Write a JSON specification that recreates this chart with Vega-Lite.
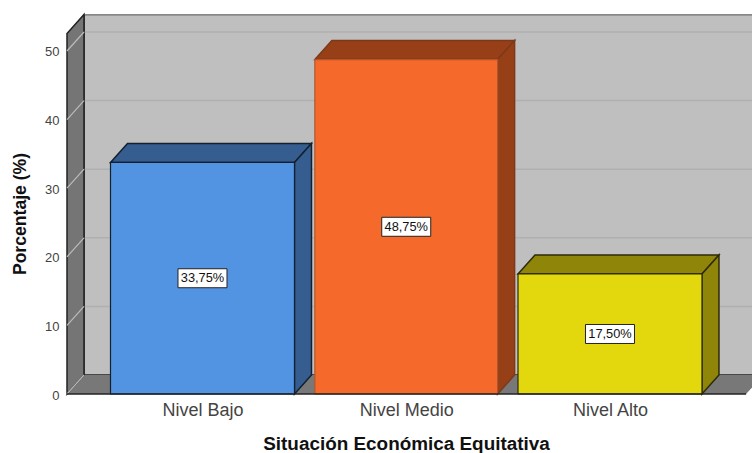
{
"$schema":"https://vega.github.io/schema/vega-lite/v6.json",
"width":685,"height":379.5,
"autosize":{"type":"none"},
"padding":{"left":67,"top":14.5,"right":0,"bottom":59},
"background":"white",
"view":{"stroke":null},
"config":{"font":"Liberation Sans"},
"datasets":{
"barras":[
{"categoria":"Nivel Bajo","inicio":0.5485,"fin":1.4515,"porcentaje":33.75,"mitad":16.875,"centro":1,"etiqueta":"33,75%"},
{"categoria":"Nivel Medio","inicio":1.5515,"fin":2.4485,"porcentaje":48.75,"mitad":24.375,"centro":2,"etiqueta":"48,75%"},
{"categoria":"Nivel Alto","inicio":2.5485,"fin":3.4515,"porcentaje":17.5,"mitad":8.75,"centro":3,"etiqueta":"17,50%"}
],
"caras":[
{"categoria":"Nivel Bajo","cara":"techo","x":0.5485,"y":33.75,"y2":33.75},
{"categoria":"Nivel Bajo","cara":"techo","x":0.6319,"y":33.75,"y2":36.52},
{"categoria":"Nivel Bajo","cara":"techo","x":1.4515,"y":33.75,"y2":36.52},
{"categoria":"Nivel Bajo","cara":"techo","x":1.5349,"y":36.52,"y2":36.52},
{"categoria":"Nivel Bajo","cara":"lado","x":1.4515,"y":0,"y2":33.75},
{"categoria":"Nivel Bajo","cara":"lado","x":1.5349,"y":2.77,"y2":36.52},
{"categoria":"Nivel Medio","cara":"techo","x":1.5515,"y":48.75,"y2":48.75},
{"categoria":"Nivel Medio","cara":"techo","x":1.6349,"y":48.75,"y2":51.52},
{"categoria":"Nivel Medio","cara":"techo","x":2.4485,"y":48.75,"y2":51.52},
{"categoria":"Nivel Medio","cara":"techo","x":2.5319,"y":51.52,"y2":51.52},
{"categoria":"Nivel Medio","cara":"lado","x":2.4485,"y":0,"y2":48.75},
{"categoria":"Nivel Medio","cara":"lado","x":2.5319,"y":2.77,"y2":51.52},
{"categoria":"Nivel Alto","cara":"techo","x":2.5485,"y":17.5,"y2":17.5},
{"categoria":"Nivel Alto","cara":"techo","x":2.6319,"y":17.5,"y2":20.27},
{"categoria":"Nivel Alto","cara":"techo","x":3.4515,"y":17.5,"y2":20.27},
{"categoria":"Nivel Alto","cara":"techo","x":3.5349,"y":20.27,"y2":20.27},
{"categoria":"Nivel Alto","cara":"lado","x":3.4515,"y":0,"y2":17.5},
{"categoria":"Nivel Alto","cara":"lado","x":3.5349,"y":2.77,"y2":20.27}
],
"suelo":[
{"x":0.335,"y":0,"y2":0},
{"x":0.4184,"y":0,"y2":2.77},
{"x":3.668,"y":0,"y2":2.77},
{"x":3.7514,"y":2.77,"y2":2.77}
],
"paredIzq":[
{"x":0.335,"y":0,"y2":52.55},
{"x":0.4184,"y":2.77,"y2":55.32}
],
"rejilla":[
{"nivel":0,"x":0.335,"y":0},{"nivel":0,"x":0.4184,"y":2.77},
{"nivel":10,"x":0.335,"y":10},{"nivel":10,"x":0.4184,"y":12.77},
{"nivel":20,"x":0.335,"y":20},{"nivel":20,"x":0.4184,"y":22.77},
{"nivel":30,"x":0.335,"y":30},{"nivel":30,"x":0.4184,"y":32.77},
{"nivel":40,"x":0.335,"y":40},{"nivel":40,"x":0.4184,"y":42.77},
{"nivel":50,"x":0.335,"y":50},{"nivel":50,"x":0.4184,"y":52.77}
],
"fondo":[
{"nivel":10,"x":0.4184,"y":12.77},{"nivel":10,"x":3.7514,"y":12.77},
{"nivel":20,"x":0.4184,"y":22.77},{"nivel":20,"x":3.7514,"y":22.77},
{"nivel":30,"x":0.4184,"y":32.77},{"nivel":30,"x":3.7514,"y":32.77},
{"nivel":40,"x":0.4184,"y":42.77},{"nivel":40,"x":3.7514,"y":42.77},
{"nivel":50,"x":0.4184,"y":52.77},{"nivel":50,"x":3.7514,"y":52.77}
],
"pared":[{"x":0.4184,"x2":3.7514,"y":2.77,"y2":55.32}],
"base":[{"x":0.335,"x2":3.668,"y":0}]
},
"layer":[
{"data":{"name":"pared"},
 "mark":{"type":"rect","fill":"#BFBFBF","stroke":"#222222","strokeWidth":1.5,"clip":true},
 "encoding":{
  "x":{"field":"x","type":"quantitative","scale":{"domain":[0.335,3.697],"nice":false,"zero":false},
   "axis":{"values":[1,2,3],"labelExpr":"datum.value==1?'Nivel Bajo':datum.value==2?'Nivel Medio':'Nivel Alto'","labelFontSize":18,"labelColor":"#444444","labelPadding":7,"domain":false,"ticks":false,"grid":false,"title":"Situación Económica Equitativa","titleFontSize":18.9,"titleFontWeight":"bold","titleColor":"#111111","titleX":339,"titleY":59,"titleBaseline":"bottom"}},
  "x2":{"field":"x2"},
  "y":{"field":"y","type":"quantitative","scale":{"domain":[0,55.32],"nice":false,"zero":false},
   "axis":{"values":[0,10,20,30,40,50],"labelFontSize":13,"labelColor":"#444444","labelPadding":8,"labelOffset":1,"domain":false,"ticks":false,"grid":false,"title":"Porcentaje (%)","titleFontSize":17.6,"titleFontWeight":"bold","titleColor":"#111111","titleX":-38,"titleY":199}},
  "y2":{"field":"y2"}
 }},
{"data":{"name":"fondo"},"mark":{"type":"line","stroke":"#B0B0B0","strokeWidth":1.5,"clip":true},
 "encoding":{"x":{"field":"x","type":"quantitative"},"y":{"field":"y","type":"quantitative"},"detail":{"field":"nivel"}}},
{"data":{"name":"suelo"},"mark":{"type":"area","fill":"#787878","clip":true},
 "encoding":{"x":{"field":"x","type":"quantitative"},"y":{"field":"y","type":"quantitative","stack":null},"y2":{"field":"y2"}}},
{"data":{"name":"paredIzq"},"mark":{"type":"area","fill":"#757575","stroke":"#222222","strokeWidth":1.5},
 "encoding":{"x":{"field":"x","type":"quantitative"},"y":{"field":"y","type":"quantitative","stack":null},"y2":{"field":"y2"}}},
{"data":{"name":"rejilla"},"mark":{"type":"line","stroke":"#BBBBBB","strokeWidth":1.2},
 "encoding":{"x":{"field":"x","type":"quantitative"},"y":{"field":"y","type":"quantitative"},"detail":{"field":"nivel"}}},
{"data":{"name":"caras"},"mark":{"type":"area","strokeWidth":1.5},
 "encoding":{"x":{"field":"x","type":"quantitative"},"y":{"field":"y","type":"quantitative","stack":null},"y2":{"field":"y2"},
  "detail":{"field":"cara"},
  "fill":{"field":"categoria","type":"nominal","legend":null,"scale":{"domain":["Nivel Bajo","Nivel Medio","Nivel Alto"],"range":["#365D8F","#973F17","#8F8508"]}},
  "stroke":{"field":"categoria","type":"nominal","legend":null,"scale":{"domain":["Nivel Bajo","Nivel Medio","Nivel Alto"],"range":["#14202f","#7d3a1a","#2e2b0a"]}}}},
{"data":{"name":"barras"},"mark":{"type":"rect","strokeWidth":1.2},
 "encoding":{"x":{"field":"inicio","type":"quantitative"},"x2":{"field":"fin"},"y":{"field":"porcentaje","type":"quantitative"},"y2":{"datum":0},
  "fill":{"field":"categoria","type":"nominal","legend":null,"scale":{"domain":["Nivel Bajo","Nivel Medio","Nivel Alto"],"range":["#5294E2","#F5692B","#E3D80E"]}},
  "stroke":{"field":"categoria","type":"nominal","legend":null,"scale":{"domain":["Nivel Bajo","Nivel Medio","Nivel Alto"],"range":["#14202f","#B0562A","#2e2b0a"]}}}},
{"data":{"name":"base"},"mark":{"type":"rule","stroke":"#222222","strokeWidth":1.5},
 "encoding":{"x":{"field":"x","type":"quantitative"},"x2":{"field":"x2"},"y":{"field":"y","type":"quantitative"}}},
{"data":{"name":"barras"},"mark":{"type":"rect","width":49,"height":19,"fill":"white","stroke":"#222222","strokeWidth":1},
 "encoding":{"x":{"field":"centro","type":"quantitative"},"y":{"field":"mitad","type":"quantitative"}}},
{"data":{"name":"barras"},"mark":{"type":"text","fontSize":12.8,"color":"#111111"},
 "encoding":{"x":{"field":"centro","type":"quantitative"},"y":{"field":"mitad","type":"quantitative"},"text":{"field":"etiqueta"}}}
],
"resolve":{"scale":{"fill":"independent","stroke":"independent"}}
}
